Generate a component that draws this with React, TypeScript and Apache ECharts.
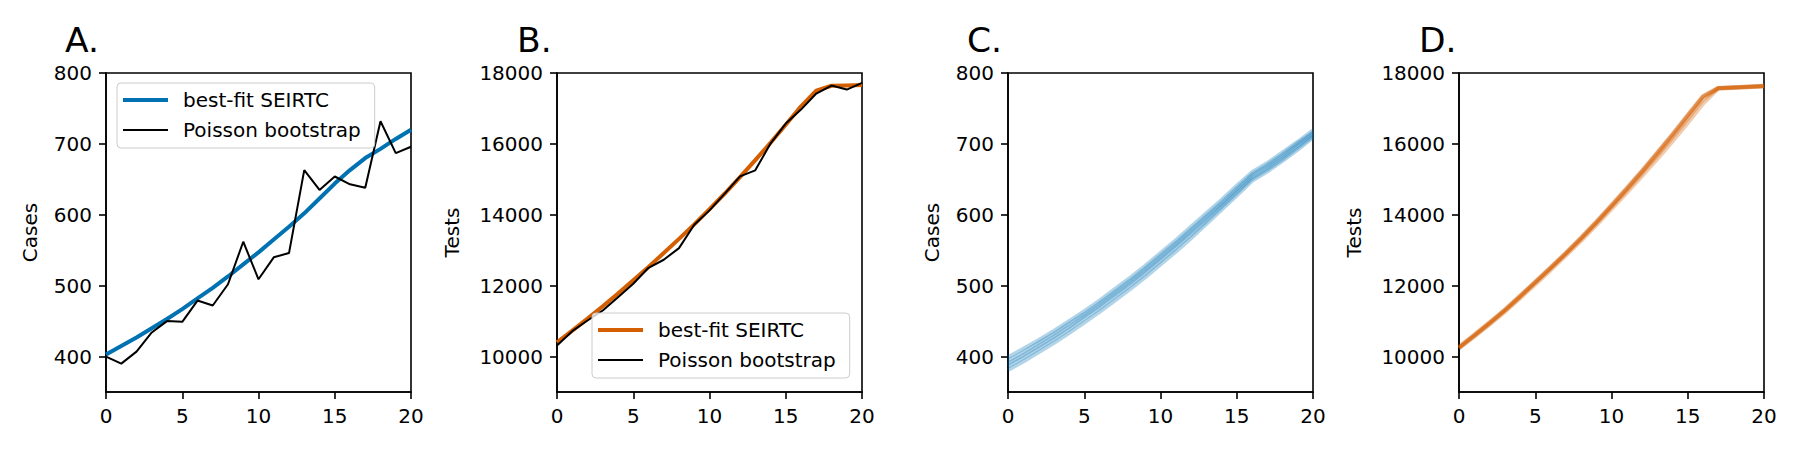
import React, { useEffect, useRef } from "react";
import * as echarts from "echarts";

// ---------- data ----------
const days = [0, 1, 2, 3, 4, 5, 6, 7, 8, 9, 10, 11, 12, 13, 14, 15, 16, 17, 18, 19, 20];

// Panel A
const casesFit = [403, 415, 427, 440, 453, 467, 482, 497, 513, 530, 547, 565, 583, 602, 623, 644, 663, 680, 693, 707, 720];
const casesPoisson = [400, 390, 407, 434, 450, 449, 479, 472, 502, 562, 509, 540, 546, 663, 635, 654, 643, 638, 732, 687, 696];

// Panel B
const testsFit = [10400, 10730, 11070, 11420, 11780, 12150, 12530, 12920, 13320, 13730, 14160, 14600, 15060, 15540, 16030, 16540, 17060, 17500, 17640, 17650, 17660];
const testsPoisson = [10310, 10716, 11017, 11300, 11676, 12053, 12505, 12731, 13060, 13719, 14124, 14595, 15085, 15254, 16008, 16573, 16968, 17420, 17646, 17533, 17721];

// Panel C: best fits to bootstrap samples (cases)
const casesBoot1 = [399, 411, 423, 436, 450, 464, 479, 495, 511, 528, 546, 564, 583, 602, 621, 641, 660, 673, 688, 703, 719];
const casesBoot2 = [394, 406, 419, 432, 446, 460, 475, 491, 507, 524, 542, 560, 579, 598, 617, 637, 657, 670, 685, 701, 716];
const casesBoot3 = [390, 402, 415, 428, 442, 457, 472, 488, 504, 521, 539, 557, 576, 595, 614, 634, 654, 667, 682, 698, 714];
const casesBoot4 = [386, 398, 411, 424, 438, 453, 468, 484, 500, 517, 535, 553, 572, 591, 611, 631, 651, 664, 679, 695, 711];
const casesBoot5 = [381, 393, 406, 419, 433, 448, 463, 479, 495, 512, 530, 548, 567, 587, 607, 627, 648, 661, 676, 692, 709];

// Panel D: best fits to bootstrap samples (tests)
const testsBoot1 = [10260, 10600, 10950, 11310, 11700, 12100, 12500, 12910, 13340, 13790, 14260, 14740, 15230, 15740, 16260, 16800, 17340, 17570, 17590, 17610, 17630];
const testsBoot2 = [10240, 10580, 10930, 11290, 11680, 12080, 12480, 12890, 13320, 13770, 14240, 14720, 15210, 15720, 16240, 16780, 17320, 17575, 17595, 17615, 17635];
const testsBoot3 = [10280, 10620, 10970, 11330, 11720, 12120, 12520, 12930, 13360, 13810, 14280, 14760, 15250, 15760, 16280, 16820, 17350, 17580, 17600, 17620, 17640];
const testsBoot4 = [10230, 10560, 10900, 11260, 11640, 12030, 12430, 12840, 13260, 13700, 14160, 14620, 15090, 15570, 16070, 16590, 17130, 17560, 17580, 17600, 17620];
const testsBoot5 = [10250, 10590, 10940, 11300, 11690, 12090, 12490, 12900, 13320, 13760, 14220, 14690, 15170, 15670, 16180, 16710, 17250, 17565, 17585, 17605, 17625];

// Ticks / labels
const dayTicks = [0, 5, 10, 15, 20];
const casesTicks = [400, 500, 600, 700, 800];
const testsTicks = [10000, 12000, 14000, 16000, 18000];
const panelLabels = ["A.", "B.", "C.", "D."];
const yNames = ["Cases", "Tests", "Cases", "Tests"];
const legendNames = ["best-fit SEIRTC", "Poisson bootstrap"];

// ---------- styling ----------
const BLUE = "#0072B2";
const ORANGE = "#D55E00";
const FONT = "DejaVu Sans";
const gridLefts = [106, 557, 1008, 1459];
const gridTop = 73;
const gridW = 305;
const gridH = 319;
const titleX = [65, 517, 967, 1419];
const nameGaps = [66, 95, 66, 95];
const THICK_ICON = "path://M0,0H45V4H0Z";
const THIN_ICON = "path://M0,0H45V2H0Z";

const pairs = (ys: number[]) => days.map((d, i) => [d, ys[i]]);

function buildOption() {
  const grids = gridLefts.map((left) => ({
    left,
    top: gridTop,
    width: gridW,
    height: gridH,
    show: true,
    borderColor: "#000",
    borderWidth: 1.6,
    backgroundColor: "transparent",
    containLabel: false,
  }));

  const xAxes = gridLefts.map((_, i) => ({
    type: "value",
    gridIndex: i,
    min: 0,
    max: 20,
    interval: 5,
    axisLine: { show: true, onZero: false, lineStyle: { color: "#000", width: 1.6 } },
    axisTick: { show: true, inside: false, length: 7, lineStyle: { color: "#000", width: 1.6 } },
    axisLabel: {
      show: true,
      margin: 14,
      fontSize: 20,
      color: "#000",
      fontFamily: FONT,
      formatter: (v: number) => String(v),
    },
    splitLine: { show: false },
  }));

  const yAxes = gridLefts.map((_, i) => {
    const isCases = i % 2 === 0;
    const ticks = isCases ? casesTicks : testsTicks;
    return {
      type: "value",
      gridIndex: i,
      min: isCases ? 350 : 9000,
      max: isCases ? 800 : 18000,
      name: yNames[i],
      nameLocation: "middle",
      nameGap: nameGaps[i],
      nameRotate: 90,
      nameTextStyle: { fontSize: 20, color: "#000", fontFamily: FONT },
      axisLine: { show: true, onZero: false, lineStyle: { color: "#000", width: 1.6 } },
      axisTick: { show: true, inside: false, length: 7, lineStyle: { color: "#000", width: 1.6 }, customValues: ticks },
      axisLabel: {
        show: true,
        margin: 14,
        fontSize: 20,
        color: "#000",
        fontFamily: FONT,
        customValues: ticks,
        formatter: (v: number) => String(v),
      },
      splitLine: { show: false },
    };
  });

  const line = (name: string, idx: number, ys: number[], color: string, width: number, opacity = 1, z = 2) => ({
    type: "line",
    name,
    xAxisIndex: idx,
    yAxisIndex: idx,
    data: pairs(ys),
    symbol: "none",
    showSymbol: false,
    smooth: false,
    z,
    lineStyle: { color, width, opacity },
    itemStyle: { color },
    emphasis: { disabled: true },
  });

  const series: any[] = [
    line("A|" + legendNames[0], 0, casesFit, BLUE, 4, 1, 2),
    line("A|" + legendNames[1], 0, casesPoisson, "#000", 2, 1, 3),
    line("B|" + legendNames[0], 1, testsFit, ORANGE, 4, 1, 2),
    line("B|" + legendNames[1], 1, testsPoisson, "#000", 2, 1, 3),
  ];
  [casesBoot1, casesBoot2, casesBoot3, casesBoot4, casesBoot5].forEach((ys, k) =>
    series.push(line("C|boot" + k, 2, ys, BLUE, 4, 0.3, 2))
  );
  [testsBoot1, testsBoot2, testsBoot3, testsBoot4, testsBoot5].forEach((ys, k) =>
    series.push(line("D|boot" + k, 3, ys, ORANGE, 4, 0.32, 2))
  );

  const mkLegend = (prefix: string, color: string, left: number, top: number) => ({
    show: true,
    orient: "vertical",
    left,
    top,
    itemWidth: 45,
    itemHeight: 14,
    itemGap: 10,
    backgroundColor: "rgba(255,255,255,0.8)",
    borderColor: "#cccccc",
    borderWidth: 1,
    borderRadius: 4,
    padding: [7, 14, 8, 6],
    selectedMode: false,
    symbolKeepAspect: true,
    itemStyle: { borderWidth: 0 },
    formatter: (n: string) => n.split("|")[1],
    textStyle: { fontSize: 20, color: "#000", fontFamily: FONT, padding: [0, 0, 0, 10] },
    data: [
      { name: prefix + "|" + legendNames[0], icon: THICK_ICON, itemStyle: { color, borderWidth: 0 } },
      { name: prefix + "|" + legendNames[1], icon: THIN_ICON, itemStyle: { color: "#000", borderWidth: 0 } },
    ],
  });

  const graphics = panelLabels.map((t, i) => ({
    type: "text",
    x: titleX[i],
    y: 40,
    style: { text: t, fontSize: 34.5, fontFamily: FONT, fill: "#000", verticalAlign: "middle", align: "left" },
    silent: true,
  }));

  return {
    animation: false,
    backgroundColor: "#fff",
    textStyle: { fontFamily: FONT },
    grid: grids,
    xAxis: xAxes,
    yAxis: yAxes,
    legend: [mkLegend("A", BLUE, 117, 83), mkLegend("B", ORANGE, 592, 313)],
    series,
    graphic: graphics,
  };
}

export default function App() {
  const ref = useRef<HTMLDivElement>(null);
  useEffect(() => {
    document.body.style.margin = "0";
    if (!ref.current) return;
    const chart = echarts.init(ref.current, null, { renderer: "svg" });
    chart.setOption(buildOption() as any);
    return () => chart.dispose();
  }, []);
  return <div ref={ref} style={{ width: 1800, height: 450 }} />;
}
